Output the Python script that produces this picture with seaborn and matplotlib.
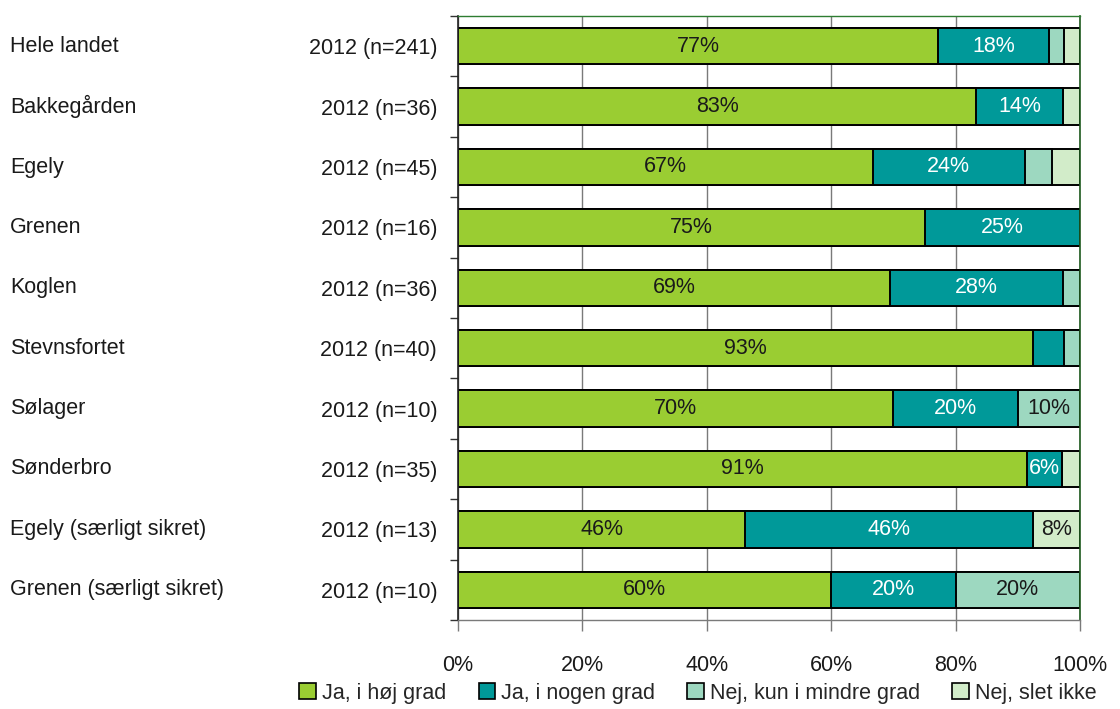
import seaborn as sns
import matplotlib.pyplot as plt
import pandas as pd
from matplotlib.patches import Patch
from matplotlib.transforms import blended_transform_factory
from matplotlib.ticker import FixedLocator, PercentFormatter

# institutions / sample labels
groups = [
    "Hele landet", "Bakkegården", "Egely", "Grenen", "Koglen",
    "Stevnsfortet", "Sølager", "Sønderbro",
    "Egely (særligt sikret)", "Grenen (særligt sikret)",
]
years = [
    "2012 (n=241)", "2012 (n=36)", "2012 (n=45)", "2012 (n=16)", "2012 (n=36)",
    "2012 (n=40)", "2012 (n=10)", "2012 (n=35)", "2012 (n=13)", "2012 (n=10)",
]

# answer shares in percent
hoej = [77.2, 83.3, 66.7, 75.0, 69.4, 92.5, 70.0, 91.4, 46.2, 60.0]
nogen = [17.8, 13.9, 24.4, 25.0, 27.8, 5.0, 20.0, 5.7, 46.2, 20.0]
mindre = [2.5, 0.0, 4.4, 0.0, 2.8, 2.5, 10.0, 0.0, 0.0, 20.0]
slet = [2.5, 2.8, 4.5, 0.0, 0.0, 0.0, 0.0, 2.9, 7.6, 0.0]

answers = ["Ja, i høj grad", "Ja, i nogen grad", "Nej, kun i mindre grad", "Nej, slet ikke"]
colors = ["#9acd32", "#009999", "#9dd8c0", "#d2ecc9"]
text_colors = ["#1a1a1a", "white", "#1a1a1a", "#1a1a1a"]

sns.set_theme(style="white")
plt.rcParams["font.family"] = ["Liberation Sans", "DejaVu Sans"]
FS = 15.5

df = pd.DataFrame({"group": groups, "year": years})
series = [hoej, nogen, mindre, slet]
cum = []
running = [0.0] * len(groups)
for s in series:
    running = [a + b for a, b in zip(running, s)]
    cum.append(running)

fig = plt.figure(figsize=(11.2, 7.09), dpi=100)
ax = fig.add_axes([458 / 1120, 1 - 620 / 709, 622 / 1120, 604 / 709])

# stacked bars: draw the cumulative totals from the back to the front
for k in range(3, -1, -1):
    df["val"] = [min(v, 100) for v in cum[k]]
    sns.barplot(data=df, x="val", y="group", orient="h", color=colors[k],
                saturation=1, width=0.6, edgecolor="black", linewidth=1.4,
                errorbar=None, order=groups, ax=ax, zorder=2)

# value labels in the middle of each segment
for k, s in enumerate(series):
    for i, v in enumerate(s):
        if v >= 5.5:
            ax.text(cum[k][i] - v / 2, i, f"{int(v + 0.5)}%", ha="center",
                    va="center", color=text_colors[k], fontsize=FS, zorder=3)

# year / n labels next to the axis, institution names at the far left
ax.set_yticks(range(len(groups)))
ax.set_yticklabels(years)
trans = blended_transform_factory(fig.transFigure, ax.transData)
for i, g in enumerate(groups):
    ax.text(10 / 1120, i, g, transform=trans, ha="left", va="center",
            fontsize=FS, color="#1a1a1a")

ax.set_xlim(0, 100)
ax.set_ylim(len(groups) - 0.5, -0.5)
ax.set_xlabel("")
ax.set_ylabel("")
ax.xaxis.set_major_locator(FixedLocator([0, 20, 40, 60, 80, 100]))
ax.xaxis.set_major_formatter(PercentFormatter(decimals=0))
ax.set_axisbelow(True)
ax.xaxis.grid(True, color="#7a7a7a", linewidth=1)
ax.yaxis.grid(False)

ax.tick_params(axis="x", which="major", bottom=True, length=8, width=1,
               color="#7a7a7a", pad=17, labelsize=FS, labelcolor="#1a1a1a")
ax.tick_params(axis="y", which="major", left=False, length=0, pad=15,
               labelsize=FS, labelcolor="#1a1a1a")
ax.yaxis.set_minor_locator(FixedLocator([i - 0.5 for i in range(len(groups) + 1)]))
ax.tick_params(axis="y", which="minor", left=True, length=6, width=1, color="#333333")

ax.spines["left"].set_color("#222222")
ax.spines["left"].set_linewidth(1.2)
ax.spines["right"].set_color("#1e5a1e")
ax.spines["right"].set_linewidth(1.2)
ax.spines["top"].set_color("#2e7d32")
ax.spines["top"].set_linewidth(1)
ax.spines["bottom"].set_color("#7a7a7a")
ax.spines["bottom"].set_linewidth(1)

handles = [Patch(facecolor=c, edgecolor="black", linewidth=1.2) for c in colors]
fig.legend(handles, answers, loc="center", bbox_to_anchor=(698 / 1120, 1 - 693 / 709),
           ncol=4, frameon=False, fontsize=FS, handlelength=0.75, handleheight=0.75,
           handletextpad=0.3, columnspacing=1.5, borderaxespad=0)

fig.savefig("out.png", dpi=100)
